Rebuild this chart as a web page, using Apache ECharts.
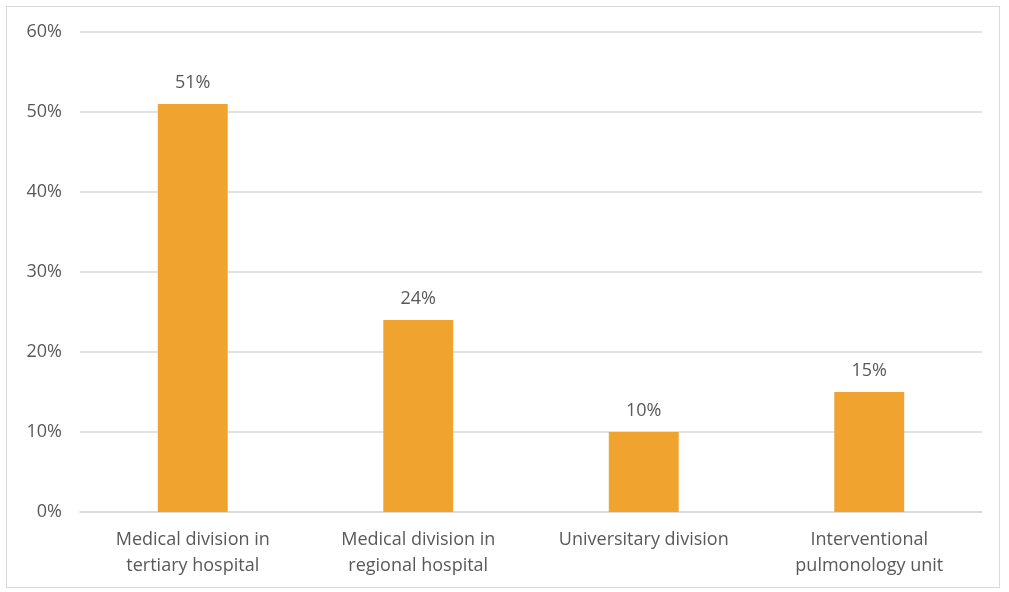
<!DOCTYPE html>
<html>
<head>
<meta charset="utf-8">
<script src="https://cdn.jsdelivr.net/npm/echarts@6/dist/echarts.min.js"></script>
<style>
  html, body { margin: 0; padding: 0; background: #fff; }
  #frame { position: absolute; left: 6px; top: 6px; width: 994px; height: 582px; border: 1.5px solid #D9D9D9; box-sizing: border-box; }
  #chart { position: absolute; left: 0; top: 0; width: 1009px; height: 592px; }
</style>
</head>
<body>
<div id="frame"></div>
<div id="chart"></div>
<script>
// Share of respondents by workplace setting
const categories = [
  'Medical division in\ntertiary hospital',
  'Medical division in\nregional hospital',
  'Universitary division',
  'Interventional\npulmonology unit'
];
const shares = [51, 24, 10, 15];
const yTicks = [0, 10, 20, 30, 40, 50, 60];

const fontFamily = '"Open Sans", "Noto Sans", sans-serif';
const textColor = '#595959';

const chart = echarts.init(document.getElementById('chart'), null, { renderer: 'canvas' });
chart.setOption({
  animation: false,
  grid: { left: 80, right: 27, top: 32, bottom: 80, containLabel: false },
  xAxis: {
    type: 'category',
    data: categories,
    axisLine: { lineStyle: { color: '#D9D9D9', width: 1.5 } },
    axisTick: { show: false },
    axisLabel: {
      color: textColor,
      fontFamily: fontFamily,
      fontSize: 18,
      lineHeight: 26,
      margin: 15,
      interval: 0
    }
  },
  yAxis: {
    type: 'value',
    min: yTicks[0],
    max: yTicks[yTicks.length - 1],
    interval: 10,
    axisLine: { show: false },
    axisTick: { show: false },
    splitLine: { lineStyle: { color: '#D9D9D9', width: 1.5 } },
    axisLabel: {
      color: textColor,
      fontFamily: fontFamily,
      fontSize: 18,
      margin: 18,
      formatter: v => v + '%'
    }
  },
  series: [{
    type: 'bar',
    data: shares,
    barWidth: '31%',
    itemStyle: { color: '#F0A32F' },
    label: {
      show: true,
      position: 'top',
      distance: 12,
      color: textColor,
      fontFamily: fontFamily,
      fontSize: 18,
      formatter: p => p.value + '%'
    }
  }]
});
</script>
</body>
</html>
